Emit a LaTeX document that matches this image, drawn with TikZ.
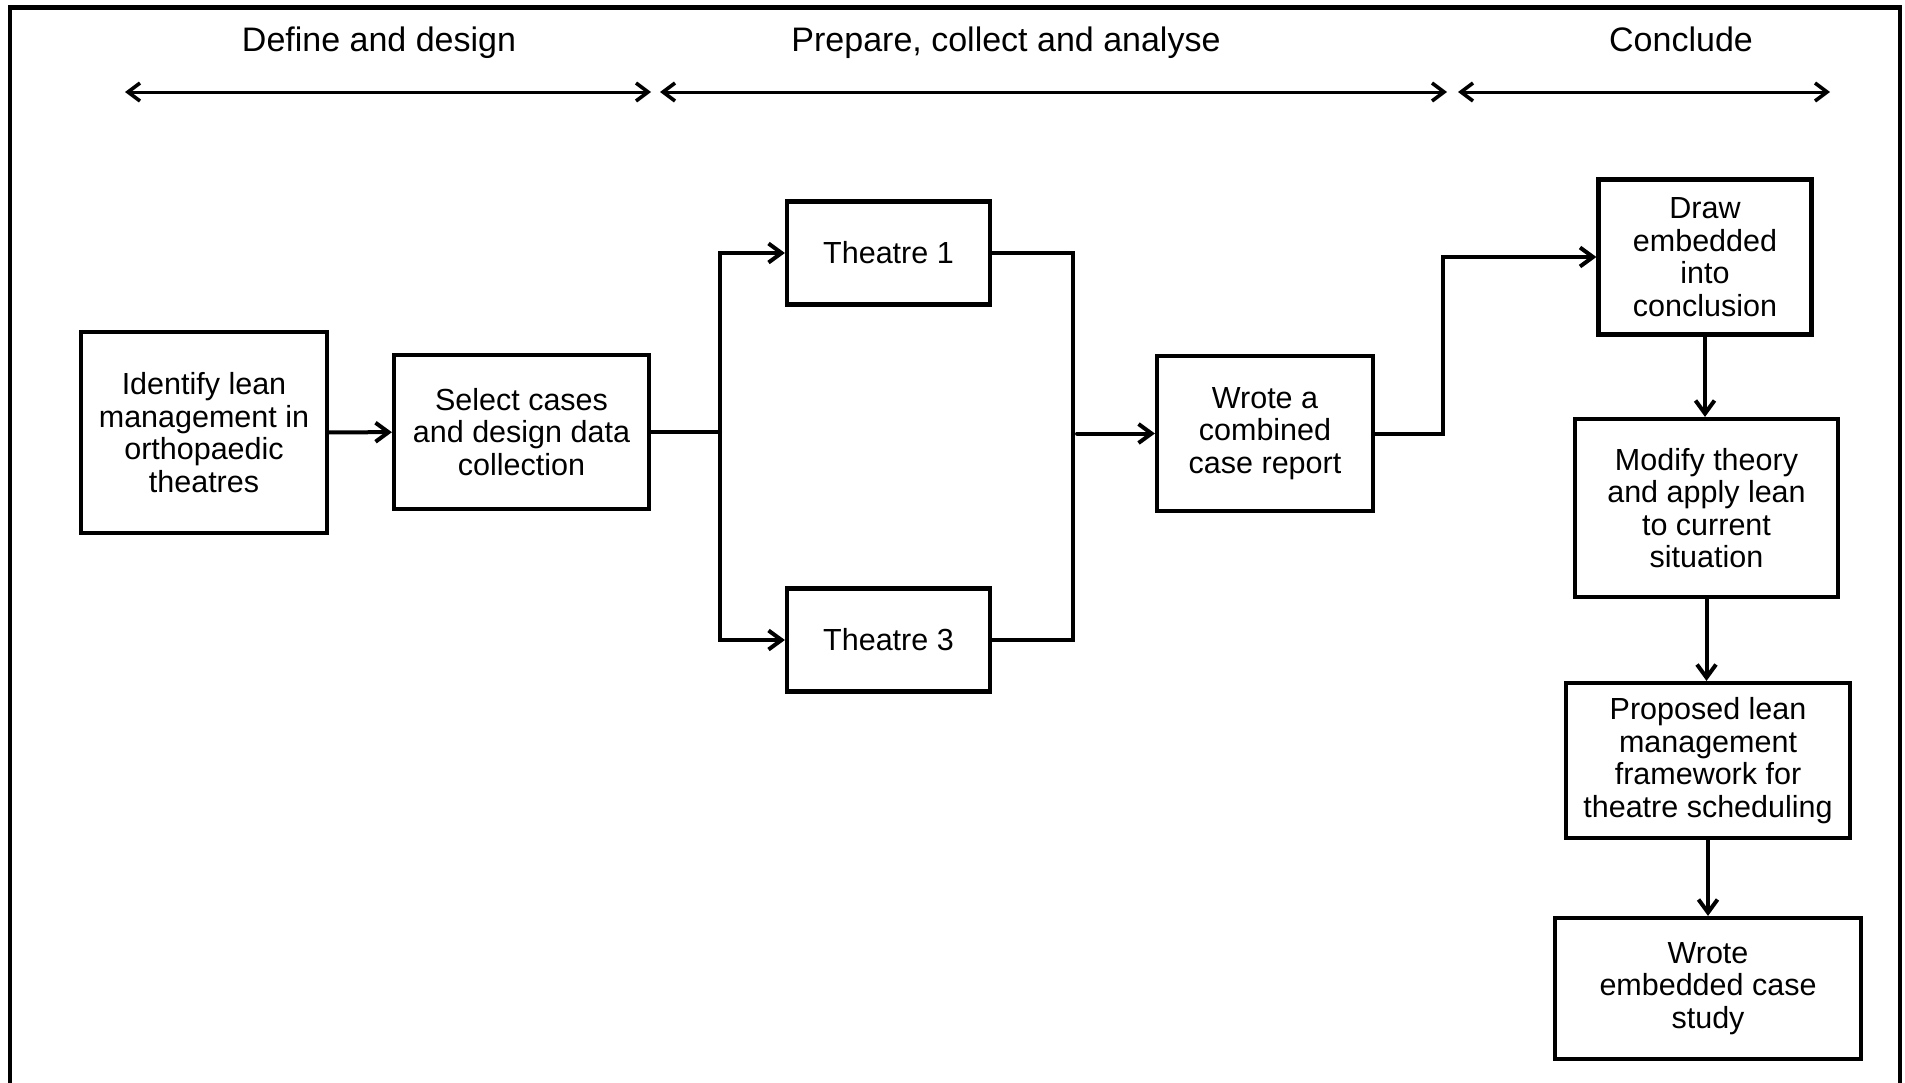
\documentclass[tikz,border=0pt]{standalone}
\usepackage{fontspec}
\setmainfont{Liberation Sans}
\usetikzlibrary{arrows.meta}

\begin{document}
\begin{tikzpicture}[x=1pt,y=-1pt,
  box/.style={draw, line width=4.2pt, align=center, inner sep=0pt,
    font=\fontsize{30.5}{32.5}\selectfont},
  flow/.style={line width=4pt, line cap=round, line join=miter},
  arr/.style={flow, -{Straight Barb[length=13pt,width=19pt,line width=4pt]}},
  phase/.style={line width=3pt,
    {Straight Barb[length=12pt,width=18pt,line width=3.6pt]}-{Straight Barb[length=12pt,width=18pt,line width=3.6pt]}},
  head/.style={anchor=base, font=\fontsize{34}{40}\selectfont}]

% page area and outer frame (open at the bottom edge)
\clip (0,0) rectangle (1905,1082);
\fill[white] (0,0) rectangle (1905,1082);
\draw[line width=4.8pt] (10,1100) -- (10,7.5) -- (1900,7.5) -- (1900,1100);

% phase headings
\node[head] (h1) at (379,51) {Define and design};
\node[head] (h2) at (1006,51) {Prepare, collect and analyse};
\node[head] (h3) at (1681,51) {Conclude};

\coordinate (p1a) at (125,92);  \coordinate (p1b) at (651,92);
\coordinate (p2a) at (660,92);  \coordinate (p2b) at (1447,92);
\coordinate (p3a) at (1458,92); \coordinate (p3b) at (1830,92);
\draw[phase] (p1a) -- (p1b);
\draw[phase] (p2a) -- (p2b);
\draw[phase] (p3a) -- (p3b);

% process boxes
\node[box, minimum width=246pt, minimum height=201pt] (ident) at (204,432.5)
  {Identify lean\\management in\\orthopaedic\\theatres};
\node[box, minimum width=255pt, minimum height=154pt] (select) at (521.5,432)
  {Select cases\\and design data\\collection};
\node[box, minimum width=203pt, minimum height=103pt] (t1) at (888.5,253) {Theatre 1};
\node[box, minimum width=203pt, minimum height=103pt] (t3) at (888.5,640) {Theatre 3};
\node[box, minimum width=216pt, minimum height=155pt] (comb) at (1265,433.5)
  {Wrote a\\combined\\case report};
\node[box, minimum width=213pt, minimum height=155pt] (drawc) at (1705,257)
  {Draw\\embedded\\into\\conclusion};
\node[box, minimum width=263pt, minimum height=178pt] (modify) at (1706.5,508)
  {Modify theory\\and apply lean\\to current\\situation};
\node[box, minimum width=284pt, minimum height=155pt] (proposed) at (1708,760.5)
  {Proposed lean\\management\\framework for\\theatre scheduling};
\node[box, minimum width=306pt, minimum height=141pt] (wemb) at (1708,988.5)
  {Wrote\\embedded case\\study};

% junction points
\coordinate (split) at (720,432);
\coordinate (merge) at (1073,433.5);
\coordinate (rise) at (1443,433.5);

% connectors
\draw[arr] (ident) -- (select);
\draw[flow] (select.east) -- (split);
\draw[arr] (split) |- (t1.west);
\draw[arr] (split) |- (t3.west);
\draw[flow] (t1.east) -| (merge) |- (t3.east);
\draw[arr] ([xshift=4pt]merge) -- (comb.west);
\draw[arr] (comb.east) -- (rise) |- (drawc.west);
\draw[arr] (drawc.south) -- (drawc.south |- modify.north);
\draw[arr] (modify.south) -- (modify.south |- proposed.north);
\draw[arr] (proposed.south) -- (proposed.south |- wemb.north);

\end{tikzpicture}
\end{document}
